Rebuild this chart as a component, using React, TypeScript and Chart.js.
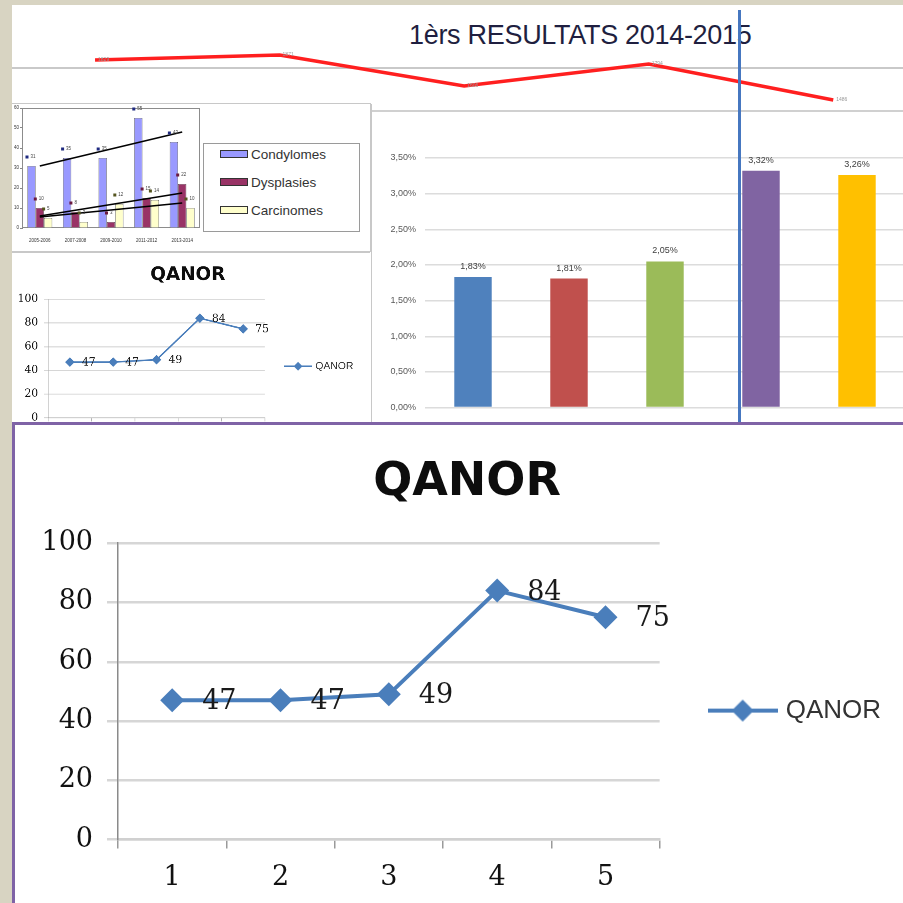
import React, { useEffect, useRef } from 'react';
import { Chart, registerables } from 'chart.js';

Chart.register(...registerables);

// ---------------- data ----------------
const headerTitle = '1èrs RESULTATS 2014-2015';
const headerValues = [1829, 1871, 1606, 1794, 1486];

const periods = ['2005-2006', '2007-2008', '2009-2010', '2011-2012', '2013-2014'];
const condylomes = [31, 35, 35, 55, 43];
const dysplasies = [10, 8, 3, 15, 22];
const carcinomes = [5, 3, 12, 14, 10];
const condylomesTrend = [31, null, null, null, 48];
const dysplasiesTrend = [6, null, null, null, 17.5];
const carcinomesTrend = [5.5, null, null, null, 12.5];
const seriesNames = ['Condylomes', 'Dysplasies', 'Carcinomes'];

const rateGroups = ['1', '2', '3', '4', '5'];
const rateValues = [1.83, 1.81, 2.05, 3.32, 3.26];

const qanorLabels = ['1', '2', '3', '4', '5'];
const qanorValues = [47, 47, 49, 84, 75];

// ---------------- styles ----------------
const rateColors = ['#4f81bd', '#c0504d', '#9bbb59', '#8064a2', '#ffc000'];
const seriesColors = ['#9999ff', '#993366', '#ffffcc'];
const keyColors = ['#1f2a80', '#6b1a40', '#55551f'];
const qanorBlue = '#4a7ebb';

const pct = (v: number) => v.toFixed(2).replace('.', ',') + '%';

// label plugin factory
function pointLabels(opts: { font: string; color: string; dx: number; dy: number; align: CanvasTextAlign; baseline: CanvasTextBaseline; fmt: (v: number) => string }) {
  return {
    id: 'pointLabels' + Math.random().toString(36).slice(2),
    afterDatasetsDraw(chart: any) {
      const ctx = chart.ctx;
      ctx.save();
      ctx.font = opts.font;
      ctx.fillStyle = opts.color;
      ctx.textAlign = opts.align;
      ctx.textBaseline = opts.baseline;
      chart.data.datasets.forEach((ds: any, di: number) => {
        const meta = chart.getDatasetMeta(di);
        meta.data.forEach((el: any, i: number) => {
          const raw = ds.data[i];
          const v = typeof raw === 'object' && raw !== null ? raw.y : raw;
          if (v == null) return;
          ctx.fillText(opts.fmt(v), el.x + opts.dx, el.y + opts.dy);
        });
      });
      ctx.restore();
    },
  };
}

const plotBorder = {
  id: 'plotBorder',
  beforeDatasetsDraw(chart: any) {
    const { ctx, chartArea: a } = chart;
    ctx.save();
    ctx.strokeStyle = '#8c8c8c';
    ctx.lineWidth = 1;
    ctx.strokeRect(a.left + 0.5, a.top + 0.5, a.right - a.left - 1, a.bottom - a.top - 1);
    ctx.restore();
  },
};

const keyLabels = {
  id: 'keyLabels',
  afterDatasetsDraw(chart: any) {
    const ctx = chart.ctx;
    ctx.save();
    ctx.font = '4.5px "Liberation Sans"';
    ctx.textBaseline = 'middle';
    chart.data.datasets.forEach((ds: any, di: number) => {
      if (ds.type === 'line') return;
      const meta = chart.getDatasetMeta(di);
      const k = seriesNames.indexOf(ds.label);
      meta.data.forEach((el: any, i: number) => {
        const v = ds.data[i];
        ctx.fillStyle = keyColors[k];
        ctx.fillRect(el.x - 6, el.y - 10.5, 3, 3);
        ctx.fillStyle = '#444';
        ctx.fillText(String(v), el.x - 1, el.y - 9);
      });
    });
    ctx.restore();
  },
};

function makeLegendIcon() {
  const c = document.createElement('canvas');
  c.width = 70;
  c.height = 28;
  const g = c.getContext('2d')!;
  g.strokeStyle = qanorBlue;
  g.lineWidth = 4;
  g.beginPath();
  g.moveTo(0, 14);
  g.lineTo(70, 14);
  g.stroke();
  g.fillStyle = qanorBlue;
  g.beginPath();
  g.moveTo(35 - 11, 14);
  g.lineTo(35, 3);
  g.lineTo(35 + 11, 14);
  g.lineTo(35, 25);
  g.closePath();
  g.fill();
  return c;
}

// ---------------- configs ----------------
function headerConfig(): any {
  return {
    type: 'line',
    data: {
      datasets: [
        {
          data: headerValues.map((v, i) => ({ x: i, y: v })),
          borderColor: '#ff1f1f',
          borderWidth: 3.5,
          pointRadius: 0,
          tension: 0,
        },
      ],
    },
    options: {
      responsive: false,
      animation: false,
      devicePixelRatio: 1,
      layout: { padding: 0 },
      plugins: { legend: { display: false }, tooltip: { enabled: false } },
      scales: {
        x: { type: 'linear', display: false, min: -0.515, max: 4.378 },
        y: { display: false, min: 1400, max: 2000 },
      },
    },
    plugins: [
      pointLabels({ font: '5px "Liberation Sans"', color: '#999', dx: 3, dy: 0, align: 'left', baseline: 'middle', fmt: (v) => String(v) }),
    ],
  };
}

function smallBarsConfig(): any {
  const bar = (i: number, data: number[]) => ({
    label: seriesNames[i],
    data,
    backgroundColor: seriesColors[i],
    borderColor: '#333',
    borderWidth: 0.6,
    order: 1,
  });
  const trend = (data: (number | null)[]) => ({
    type: 'line',
    data,
    borderColor: '#000',
    borderWidth: 1.6,
    pointRadius: 0,
    spanGaps: true,
    order: 0,
  });
  return {
    type: 'bar',
    data: {
      labels: periods,
      datasets: [
        trend(condylomesTrend),
        trend(dysplasiesTrend),
        trend(carcinomesTrend),
        bar(0, condylomes),
        bar(1, dysplasies),
        bar(2, carcinomes),
      ],
    },
    options: {
      responsive: false,
      animation: false,
      devicePixelRatio: 1,
      datasets: { bar: { categoryPercentage: 0.7, barPercentage: 1 } },
      layout: { padding: { top: 4, right: 4, left: 0, bottom: 0 } },
      plugins: { legend: { display: false }, tooltip: { enabled: false } },
      scales: {
        x: {
          ticks: { font: { family: 'Liberation Sans', size: 4.5 }, color: '#333', maxRotation: 0, autoSkip: false, padding: 2 },
          grid: { display: false },
          border: { display: false },
          afterFit: (s: any) => { s.height = 16; },
        },
        y: {
          min: 0,
          max: 60,
          ticks: { stepSize: 10, font: { family: 'Liberation Sans', size: 4.5 }, color: '#333', padding: 1 },
          grid: { drawOnChartArea: false, tickLength: 2, color: '#888' },
          border: { color: '#888' },
          afterFit: (s: any) => { s.width = 10; },
        },
      },
    },
    plugins: [plotBorder, keyLabels],
  };
}

function rateConfig(): any {
  return {
    type: 'bar',
    data: {
      labels: rateGroups,
      datasets: [
        {
          data: rateValues,
          backgroundColor: rateColors,
          barPercentage: 0.39,
          categoryPercentage: 1,
        },
      ],
    },
    options: {
      responsive: false,
      animation: false,
      devicePixelRatio: 1,
      layout: { padding: { top: 46, bottom: 3, left: 0, right: 0 } },
      plugins: { legend: { display: false }, tooltip: { enabled: false } },
      scales: {
        x: { display: false },
        y: {
          min: 0,
          max: 3.5,
          ticks: {
            stepSize: 0.5,
            callback: (v: number) => pct(v),
            font: { family: 'Liberation Sans', size: 9 },
            color: '#595959',
            padding: 9,
          },
          grid: { color: '#dcdcdc', lineWidth: 1.5, drawTicks: false },
          border: { display: false },
          afterFit: (s: any) => { s.width = 53; },
        },
      },
    },
    plugins: [
      pointLabels({ font: '9px "Liberation Sans"', color: '#404040', dx: 0, dy: -6, align: 'center', baseline: 'bottom', fmt: pct }),
    ],
  };
}

function qanorConfig(): any {
  const icon = makeLegendIcon();
  return {
    type: 'line',
    data: {
      labels: qanorLabels,
      datasets: [
        {
          label: 'QANOR',
          data: qanorValues,
          borderColor: qanorBlue,
          backgroundColor: qanorBlue,
          borderWidth: 4,
          pointStyle: 'rectRot',
          pointRadius: 12,
          pointBorderWidth: 0,
          tension: 0,
        },
      ],
    },
    options: {
      responsive: false,
      animation: false,
      devicePixelRatio: 1,
      layout: { padding: { left: 28, bottom: 0, right: 12, top: 0 } },
      plugins: {
        tooltip: { enabled: false },
        title: {
          display: true,
          text: 'QANOR',
          color: '#0d0d0d',
          font: { family: 'DejaVu Sans', weight: 'bold', size: 46 },
          padding: { top: 30, bottom: 33 },
        },
        legend: {
          position: 'right',
          fullSize: false,
          maxWidth: 300,
          title: { display: true, text: ' ', font: { size: 32 }, padding: 0 },
          labels: {
            usePointStyle: true,
            pointStyleWidth: 60,
            padding: 53,
            color: '#333',
            font: { family: 'Liberation Sans', size: 26 },
            generateLabels: (chart: any) =>
              Chart.defaults.plugins.legend.labels
                .generateLabels(chart)
                .map((it: any) => ({ ...it, pointStyle: icon, rotation: 0 })),
          },
        },
      },
      scales: {
        x: {
          offset: true,
          grid: { offset: true, drawOnChartArea: false, tickLength: 9, color: '#9a9a9a', lineWidth: 1.5 },
          border: { color: '#d0d0d0', width: 2.5 },
          ticks: { font: { family: 'DejaVu Serif', size: 27 }, color: '#111', padding: 13 },
        },
        y: {
          min: 0,
          max: 100,
          ticks: { stepSize: 20, font: { family: 'DejaVu Serif', size: 27 }, color: '#111', padding: 14 },
          grid: { color: '#d6d6d6', lineWidth: 2.5, tickLength: 11 },
          border: { color: '#8a8a8a', width: 1.5 },
          afterFit: (s: any) => { s.width = 75; },
        },
      },
    },
    plugins: [
      pointLabels({ font: '27px "DejaVu Serif"', color: '#1a1a1a', dx: 30, dy: 2, align: 'left', baseline: 'middle', fmt: (v) => String(v) }),
    ],
  };
}

// ---------------- components ----------------
function ChartCanvas(props: { make: () => any; width: number; height: number; style?: React.CSSProperties }) {
  const ref = useRef<HTMLCanvasElement>(null);
  useEffect(() => {
    const chart = new Chart(ref.current as HTMLCanvasElement, props.make());
    return () => chart.destroy();
  }, []);
  return (
    <canvas
      ref={ref}
      width={props.width}
      height={props.height}
      style={{ position: 'absolute', display: 'block', width: props.width, height: props.height, ...props.style }}
    />
  );
}

const abs = (s: React.CSSProperties): React.CSSProperties => ({ position: 'absolute', ...s });

const QW = 888;
const QH = 482;

export default function App() {
  return (
    <div style={abs({ left: 0, top: 0, width: 903, height: 903, overflow: 'hidden', background: '#d8d4c2' })}>
      <div style={abs({ left: 12, top: 5, width: 891, height: 898, background: '#ffffff' })} />
      <div style={abs({ left: 12, top: 67, width: 891, height: 2, background: '#c9c9c9' })} />

      {/* header */}
      <div
        style={abs({
          left: 409,
          top: 18,
          fontFamily: '"Liberation Sans", Arial, sans-serif',
          fontSize: 27,
          lineHeight: '34px',
          color: '#1f1f40',
          whiteSpace: 'nowrap',
          letterSpacing: -0.3,
        })}
      >
        {headerTitle}
      </div>
      <ChartCanvas make={headerConfig} width={903} height={70} style={{ left: 0, top: 40 }} />

      {/* top-left small bar chart */}
      <div style={abs({ left: 12, top: 103, width: 358, height: 147, borderTop: '1px solid #c8c8c8', borderBottom: '1px solid #c8c8c8', borderRight: '1px solid #c8c8c8', background: '#fff' })} />
      <ChartCanvas make={smallBarsConfig} width={192} height={140} style={{ left: 12, top: 104 }} />
      <div style={abs({ left: 203, top: 143, width: 155, height: 87, border: '1px solid #9a9a9a', background: '#fff' })}>
        {seriesNames.map((n, i) => (
          <div key={n} style={abs({ left: 16, top: 1 + i * 28, height: 18, display: 'flex', alignItems: 'center', fontFamily: '"Liberation Sans", Arial, sans-serif', fontSize: 13.5, color: '#333', whiteSpace: 'nowrap' })}>
            <span style={{ display: 'inline-block', width: 26, height: 6, background: seriesColors[i], border: '1px solid #333', marginRight: 3 }} />
            {n}
          </div>
        ))}
      </div>

      {/* small QANOR */}
      <div style={abs({ left: 12, top: 252, width: 358, height: 170, overflow: 'hidden', background: '#fff', borderTop: '1px solid #c8c8c8' })}>
        <ChartCanvas make={qanorConfig} width={QW} height={QH} style={{ left: -5, top: -1, transform: 'scale(0.4)', transformOrigin: '0 0' }} />
      </div>

      {/* rates bar chart */}
      <div style={abs({ left: 371, top: 104, width: 1, height: 318, background: '#c8c8c8' })} />
      <div style={abs({ left: 372, top: 110, width: 531, height: 1.5, background: '#d0d0d0' })} />
      <ChartCanvas make={rateConfig} width={533} height={310} style={{ left: 372, top: 112 }} />

      {/* blue vertical line */}
      <div style={abs({ left: 738, top: 10, width: 3, height: 414, background: '#4677c0' })} />

      {/* big QANOR */}
      <div style={abs({ left: 12, top: 422, width: 900, height: 490, border: '3px solid #7f63a6', background: '#fff', overflow: 'hidden' })}>
        <ChartCanvas make={qanorConfig} width={QW} height={QH} style={{ left: 0, top: 0 }} />
      </div>
    </div>
  );
}
